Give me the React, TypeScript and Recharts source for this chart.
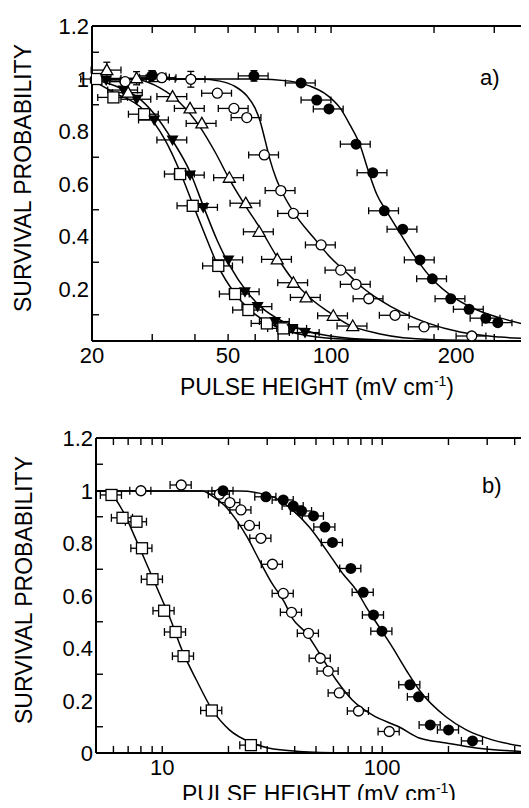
import React from "react";
import { ComposedChart, Line, Scatter, XAxis, YAxis, ErrorBar } from "recharts";

type Pt = [number, number, number?];

const FONT = '"Liberation Sans", Arial, Helvetica, sans-serif';

// ---- panel a) measured points [pulse height, survival, optional vertical error]
const aSquares: Pt[] = [
  [20.6, 0.998], [23.1, 0.928], [28.4, 0.864], [36.2, 0.636], [39.4, 0.515],
  [46.8, 0.286], [52.4, 0.179], [57.3, 0.118], [64.9, 0.067], [72.5, 0.048],
];
const aDown: Pt[] = [
  [22.0, 0.994], [24.7, 0.956], [27.0, 0.921], [30.4, 0.842], [34.4, 0.766],
  [38.7, 0.632], [42.3, 0.509], [50.1, 0.309], [56.0, 0.188], [61.0, 0.131],
  [68.6, 0.074], [77.1, 0.048], [83.9, 0.032],
];
const aTriangles: Pt[] = [
  [22.1, 1.032, 0.03], [25.5, 0.946], [27.0, 1.001, 0.025], [30.6, 1.005], [34.4, 0.931],
  [38.7, 0.886], [41.9, 0.829], [50.4, 0.622], [56.3, 0.525], [61.6, 0.416],
  [69.6, 0.311], [77.6, 0.222], [84.5, 0.166], [101.5, 0.096], [115.7, 0.057],
];
const aCircles: Pt[] = [
  [25.0, 0.988], [32.0, 1.003], [38.9, 0.997, 0.03], [46.5, 0.944], [52.0, 0.886],
  [56.7, 0.851], [63.8, 0.709], [71.3, 0.573], [77.6, 0.486], [93.5, 0.366],
  [106.7, 0.27], [118.3, 0.216], [128.9, 0.161], [153.8, 0.098], [187.0, 0.054],
  [257.8, 0.019],
];
const aFilled: Pt[] = [
  [29.9, 1.01, 0.02], [59.5, 1.01, 0.02], [81.7, 0.983], [90.8, 0.918], [98.6, 0.884],
  [118.3, 0.75], [132.4, 0.641], [143.1, 0.496], [162.0, 0.426], [182.0, 0.309],
  [197.7, 0.237], [223.8, 0.161], [253.2, 0.121], [283.4, 0.087], [307.2, 0.07],
];

// ---- panel a) fitted curves
const aCurveSquares: Pt[] = [
  [20, 0.994], [23.0, 0.949], [28.3, 0.88], [32.7, 0.766], [36.2, 0.644], [39.5, 0.518],
  [43.4, 0.385], [46.7, 0.286], [52.2, 0.183], [57.9, 0.118], [65.0, 0.072], [73.3, 0.042],
  [86.8, 0.019], [113.6, 0.006], [182, 0],
];
const aCurveDown: Pt[] = [
  [20, 0.998], [24.2, 0.964], [27.1, 0.93], [30.6, 0.861], [34.3, 0.766], [38.7, 0.644],
  [42.2, 0.518], [46.4, 0.385], [50.6, 0.286], [56.8, 0.187], [62.8, 0.126], [70.9, 0.08],
  [81.2, 0.046], [99.3, 0.019], [139.1, 0.004], [208, 0],
];
const aCurveTriangles: Pt[] = [
  [20, 1.0], [24.2, 1.0], [27.6, 0.994], [31.6, 0.964], [36.2, 0.907], [41.4, 0.815],
  [45.8, 0.72], [50.6, 0.613], [56.0, 0.518], [62.0, 0.43], [69.5, 0.32], [77.4, 0.232],
  [86.8, 0.164], [99.3, 0.107], [111.3, 0.065], [139.1, 0.027], [194.7, 0.006], [400, 0],
];
const aCurveCircles: Pt[] = [
  [20, 0.998], [41.4, 0.998], [47.3, 0.99], [52.2, 0.971], [56.8, 0.933], [59.9, 0.888],
  [62.0, 0.838], [64.1, 0.766], [66.3, 0.69], [69.0, 0.621], [72.4, 0.56], [79.5, 0.472],
  [88.6, 0.396], [99.3, 0.32], [111.3, 0.259], [124.0, 0.202], [139.1, 0.156], [162.4, 0.107],
  [190.8, 0.069], [238.3, 0.034], [312, 0.015], [400, 0.008],
];
const aCurveFilled: Pt[] = [
  [20, 0.998], [57.9, 0.998], [75.8, 0.99], [86.8, 0.971], [97.3, 0.937], [106.2, 0.888],
  [113.6, 0.823], [121.5, 0.747], [128.3, 0.651], [136.3, 0.556], [145.8, 0.491],
  [159.1, 0.411], [178.5, 0.309], [198.7, 0.232], [227.3, 0.168], [267.3, 0.118],
  [312, 0.088], [400, 0.053],
];

// ---- panel b) measured points
const bSquares: Pt[] = [
  [5.88, 0.983], [6.6, 0.896], [7.64, 0.881], [8.09, 0.78], [9.03, 0.662],
  [10.2, 0.542], [11.5, 0.461], [12.5, 0.369], [16.8, 0.162], [25.3, 0.03],
];
const bCircles: Pt[] = [
  [8.0, 0.999], [12.2, 1.021], [18.2, 0.986], [20.3, 0.954], [22.8, 0.926], [24.9, 0.867],
  [28.1, 0.818], [31.7, 0.719], [35.5, 0.608], [38.7, 0.536], [46.2, 0.456], [52.3, 0.361],
  [56.8, 0.312], [63.8, 0.229], [78.0, 0.16], [107.6, 0.082],
];
const bFilled: Pt[] = [
  [18.9, 0.999], [29.6, 0.976], [35.5, 0.964], [39.4, 0.941], [43.0, 0.922], [48.7, 0.903],
  [54.9, 0.861], [59.4, 0.802], [72.0, 0.703], [82.0, 0.612], [91.3, 0.526], [99.7, 0.464],
  [133.6, 0.26], [146.2, 0.214], [165.3, 0.107], [200.2, 0.088], [257.3, 0.046],
];

// ---- panel b) fitted curves
const bCurveSquares: Pt[] = [
  [5, 0.998], [5.45, 0.998], [5.86, 0.987], [6.58, 0.926], [7.62, 0.811], [8.73, 0.697],
  [10.0, 0.583], [10.8, 0.518], [12.3, 0.392], [14.3, 0.278], [16.9, 0.164], [20.2, 0.088],
  [25.7, 0.038], [30.3, 0.019], [42.0, 0.006], [70.8, 0],
];
const bCurveCircles: Pt[] = [
  [5, 0.998], [15.2, 0.998], [16.9, 0.979], [19.1, 0.945], [21.7, 0.888], [24.3, 0.823],
  [27.6, 0.735], [31.3, 0.651], [35.9, 0.575], [39.0, 0.514], [45.1, 0.457], [51.7, 0.381],
  [61.8, 0.278], [73.1, 0.202], [90.1, 0.145], [119.5, 0.099], [147.3, 0.057], [195.4, 0.038],
  [267.5, 0.019], [500, 0.004],
];
const bCurveFilled: Pt[] = [
  [5, 0.998], [22.4, 0.998], [27.6, 0.99], [34.0, 0.964], [39.0, 0.926], [46.6, 0.861],
  [55.7, 0.773], [65.8, 0.686], [76.2, 0.621], [84.6, 0.556], [96.9, 0.48], [111.0, 0.404],
  [128.5, 0.316], [147.3, 0.24], [195.4, 0.137], [240.9, 0.088], [316.2, 0.05], [500, 0.019],
];

// ---- axes
const aXTicks = [20, 30, 40, 50, 60, 70, 80, 90, 100, 200, 300];
const aXLabels = [20, 50, 100, 200];
const bXTicks = [5, 6, 7, 8, 9, 10, 20, 30, 40, 50, 60, 70, 80, 90, 100, 200, 300, 400];
const bXLabels = [10, 100];
const aYTicks = [0.1, 0.2, 0.3, 0.4, 0.5, 0.6, 0.7, 0.8, 0.9, 1, 1.1, 1.2];
const aYLabels = [0.2, 0.4, 0.6, 0.8, 1, 1.2];
const bYTicks = [0, 0.1, 0.2, 0.3, 0.4, 0.5, 0.6, 0.7, 0.8, 0.9, 1, 1.1, 1.2];
const bYLabels = [0, 0.2, 0.4, 0.6, 0.8, 1, 1.2];

const toPoints = (pts: Pt[], err: number) =>
  pts.map(([x, y, ey]) => ({ x, y, ex: x * err, ey }));
const toCurve = (pts: Pt[]) => pts.map(([x, y]) => ({ x, y }));

// ---- marker shapes
const openCircle = (r: number) => (p: any) =>
  <circle cx={p.cx} cy={p.cy} r={r} fill="#fff" stroke="#000" strokeWidth={1.3} />;
const filledCircle = (r: number) => (p: any) =>
  <circle cx={p.cx} cy={p.cy} r={r} fill="#000" />;
const openSquare = (s: number) => (p: any) =>
  <rect x={p.cx - s / 2} y={p.cy - s / 2} width={s} height={s} fill="#fff" stroke="#000" strokeWidth={1.3} />;
const openTriangle = (s: number) => (p: any) => (
  <polygon
    points={`${p.cx},${p.cy - s} ${p.cx + s},${p.cy + s * 0.75} ${p.cx - s},${p.cy + s * 0.75}`}
    fill="#fff" stroke="#000" strokeWidth={1.3}
  />
);
const filledDown = (s: number) => (p: any) => (
  <polygon
    points={`${p.cx - s},${p.cy - s * 0.75} ${p.cx + s},${p.cy - s * 0.75} ${p.cx},${p.cy + s}`}
    fill="#000"
  />
);

// ---- ticks (all drawn inward, labels only on the major values)
function BottomTick({ x, y, payload, labels, shift }: any) {
  const v = payload.value;
  return (
    <g>
      <line x1={x} x2={x} y1={y} y2={y - 7} stroke="#000" strokeWidth={1.4} />
      {labels.includes(v) && (
        <text x={x + (shift[v] || 0)} y={y + 22} textAnchor="middle" fontSize={22} fontFamily={FONT} fill="#000">
          {v}
        </text>
      )}
    </g>
  );
}
function TopTick({ x, y }: any) {
  return <line x1={x} x2={x} y1={y} y2={y + 7} stroke="#000" strokeWidth={1.4} />;
}
function LeftTick({ x, y, payload, labels }: any) {
  const v = payload.value;
  if (labels.includes(v)) {
    return (
      <text x={x - 3} y={y + 8} textAnchor="end" fontSize={22} fontFamily={FONT} fill="#000">
        {String(v)}
      </text>
    );
  }
  return <line x1={x} x2={x + 7} y1={y} y2={y} stroke="#000" strokeWidth={1.4} />;
}

interface Series { pts: Pt[]; shape: (p: any) => React.ReactElement }

interface PanelProps {
  top: number;
  margin: { top: number; left: number; right: number; bottom: number };
  height: number;
  domain: [number, number];
  xTicks: number[];
  xLabels: number[];
  shift: Record<number, number>;
  yTicks: number[];
  yLabels: number[];
  curves: Pt[][];
  series: Series[];
  err: number;
  cap: number;
}

function Panel(p: PanelProps) {
  const axisLine = { stroke: "#000", strokeWidth: 2 };
  return (
    <div style={{ position: "absolute", left: 0, top: p.top }}>
      <ComposedChart width={560} height={p.height} margin={p.margin}>
        <XAxis
          dataKey="x" type="number" scale="log" domain={p.domain} allowDataOverflow
          ticks={p.xTicks} interval={0} height={1} tickSize={0} tickMargin={0} tickLine={false}
          axisLine={axisLine}
          tick={(t: any) => <BottomTick {...t} labels={p.xLabels} shift={p.shift} />}
        />
        <XAxis
          xAxisId="top" orientation="top" dataKey="x" type="number" scale="log" domain={p.domain}
          allowDataOverflow ticks={p.xTicks} interval={0} height={1} tickSize={0} tickMargin={0}
          tickLine={false} axisLine={axisLine} tick={(t: any) => <TopTick {...t} />}
        />
        <YAxis
          dataKey="y" type="number" domain={[0, 1.2]} allowDataOverflow ticks={p.yTicks}
          interval={0} width={1} tickSize={0} tickMargin={0} tickLine={false} axisLine={axisLine}
          tick={(t: any) => <LeftTick {...t} labels={p.yLabels} />}
        />
        {p.curves.map((c, i) => (
          <Line
            key={`c${i}`} data={toCurve(c)} dataKey="y" type="monotone" dot={false} activeDot={false}
            stroke="#000" strokeWidth={1.5} isAnimationActive={false}
          />
        ))}
        {p.series.map((s, i) => (
          <Scatter key={`e${i}`} data={toPoints(s.pts, p.err)} shape={() => <g />} isAnimationActive={false}>
            <ErrorBar dataKey="ex" direction="x" width={p.cap} stroke="#000" strokeWidth={1.3} isAnimationActive={false} />
            <ErrorBar dataKey="ey" direction="y" width={p.cap} stroke="#000" strokeWidth={1.3} isAnimationActive={false} />
          </Scatter>
        ))}
        {p.series.map((s, i) => (
          <Scatter key={`m${i}`} data={toPoints(s.pts, p.err)} shape={s.shape} isAnimationActive={false} />
        ))}
      </ComposedChart>
    </div>
  );
}

export default function App() {
  return (
    <div
      style={{
        position: "relative", width: 529, height: 808, margin: -8, overflow: "hidden",
        background: "#fff", fontFamily: FONT,
      }}
    >
      <Panel
        top={0}
        height={400}
        margin={{ top: 25, left: 91, right: 23, bottom: 58 }}
        domain={[20, 400]}
        xTicks={aXTicks}
        xLabels={aXLabels}
        shift={{ 200: 22 }}
        yTicks={aYTicks}
        yLabels={aYLabels}
        curves={[aCurveSquares, aCurveDown, aCurveTriangles, aCurveCircles, aCurveFilled]}
        series={[
          { pts: aSquares, shape: openSquare(11) },
          { pts: aDown, shape: filledDown(6) },
          { pts: aTriangles, shape: openTriangle(6) },
          { pts: aCircles, shape: openCircle(5) },
          { pts: aFilled, shape: filledCircle(5.5) },
        ]}
        err={0.1}
        cap={3.5}
      />
      <Panel
        top={400}
        height={408}
        margin={{ top: 37, left: 95, right: 24, bottom: 54 }}
        domain={[5, 500]}
        xTicks={bXTicks}
        xLabels={bXLabels}
        shift={{}}
        yTicks={bYTicks}
        yLabels={bYLabels}
        curves={[bCurveSquares, bCurveCircles, bCurveFilled]}
        series={[
          { pts: bSquares, shape: openSquare(11) },
          { pts: bCircles, shape: openCircle(5) },
          { pts: bFilled, shape: filledCircle(5.5) },
        ]}
        err={0.11}
        cap={4}
      />
      <svg width={529} height={808} style={{ position: "absolute", left: 0, top: 0, pointerEvents: "none" }}>
        <g fontFamily={FONT} fill="#000">
          <text transform="translate(31,178) rotate(-90)" textAnchor="middle" fontSize={23}>SURVIVAL PROBABILITY</text>
          <text transform="translate(32,590) rotate(-90)" textAnchor="middle" fontSize={23}>SURVIVAL PROBABILITY</text>
          <text x={317} y={395} textAnchor="middle" fontSize={23}>
            PULSE HEIGHT (mV cm<tspan fontSize={14} dy={-9}>-1</tspan><tspan dy={9}>)</tspan>
          </text>
          <text x={319} y={802} textAnchor="middle" fontSize={23}>
            PULSE HEIGHT (mV cm<tspan fontSize={14} dy={-9}>-1</tspan><tspan dy={9}>)</tspan>
          </text>
          <text x={480} y={85} fontSize={22}>a)</text>
          <text x={482} y={493} fontSize={22}>b)</text>
        </g>
      </svg>
    </div>
  );
}
